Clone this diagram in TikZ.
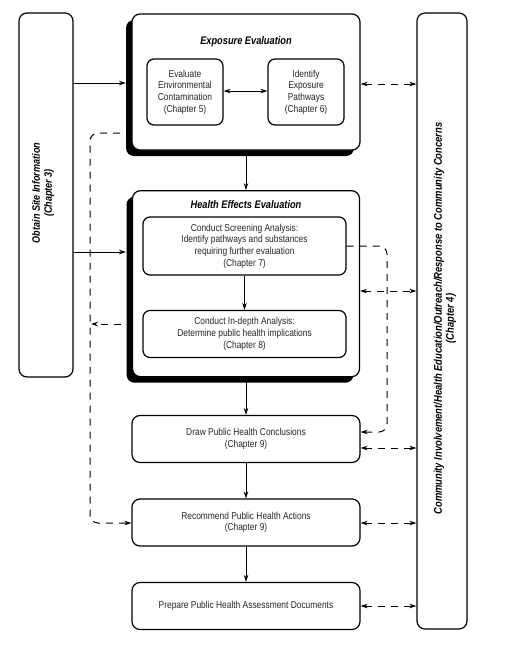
\documentclass[tikz,border=0pt]{standalone}
\usepackage{fontspec}
\setmainfont{Liberation Sans}[FakeStretch=0.84]
\usetikzlibrary{arrows.meta,shadows}
\begin{document}
\begin{tikzpicture}[x=1pt,y=-1pt,
  box/.style={draw, line width=1.2pt, rounded corners=8pt, fill=white, align=center, inner sep=0pt},
  shad/.style={drop shadow={shadow xshift=-6pt, shadow yshift=-6pt, fill=black, opacity=1}},
  txt/.style={font=\fontsize{10}{11.7}\selectfont, text=black!85},
  ttl/.style={font=\fontsize{11}{13}\selectfont\bfseries\itshape, inner sep=0pt},
  side/.style={font=\fontsize{10.8}{12}\selectfont\bfseries\itshape, align=center, rotate=90, inner sep=0pt},
  tip/.tip={Stealth[length=7pt,width=4.5pt]},
  arr/.style={-tip, line width=1pt},
  arrb/.style={tip-tip, line width=1pt},
  dar/.style={-tip, line width=1pt, dash pattern=on 7pt off 6pt},
  darr/.style={tip-tip, line width=1pt, dash pattern=on 7pt off 6pt}
]
\useasboundingbox (0,0) rectangle (506,656);

% side boxes
\node[box, minimum width=54pt, minimum height=364pt] (obtain) at (46,195) {};
\node[side] (obtaintext) at (43,193) {Obtain Site Information\\(Chapter 3)};
\node[box, minimum width=50pt, minimum height=616pt] (comm) at (442,321) {};
\node[side, font=\fontsize{11.2}{12}\selectfont\bfseries\itshape] (commtext) at (445,318.5) {Community Involvement/Health Education/Outreach/Response to Community Concerns\\(Chapter 4)};

% exposure evaluation
\node[box, shad, minimum width=228pt, minimum height=136pt] (expo) at (246,82) {};
\node[ttl] (expotitle) at (246,42) {Exposure Evaluation};
\node[box, txt, rounded corners=7pt, minimum width=76pt, minimum height=66pt] (eval) at (185,92) {Evaluate\\Environmental\\Contamination\\(Chapter 5)};
\node[box, txt, rounded corners=7pt, minimum width=76pt, minimum height=66pt] (ident) at (306,92) {Identify\\Exposure\\Pathways\\(Chapter 6)};
\draw[arrb] (eval.east |- 0,91) -- (ident.west |- 0,91);

% health effects evaluation
\node[box, shad, minimum width=227pt, minimum height=186pt] (health) at (246,283.7) {};
\node[ttl] (healthtitle) at (246,205) {Health Effects Evaluation};
\node[box, txt, rounded corners=7pt, minimum width=203pt, minimum height=58pt] (screen) at (244.5,246) {Conduct Screening Analysis:\\Identify pathways and substances\\requiring further evaluation\\(Chapter 7)};
\node[box, txt, rounded corners=7pt, minimum width=203pt, minimum height=47pt] (indepth) at (244.5,334) {Conduct In-depth Analysis:\\Determine public health implications\\(Chapter 8)};
\draw[arr] (screen.south) -- (indepth.north);

% lower boxes
\node[box, txt, minimum width=228pt, minimum height=47pt] (draw) at (246,439) {Draw Public Health Conclusions\\(Chapter 9)};
\node[box, txt, minimum width=228pt, minimum height=47pt] (recom) at (246,522.5) {Recommend Public Health Actions\\(Chapter 9)};
\node[box, txt, minimum width=228pt, minimum height=47pt] (prep) at (246,606) {Prepare Public Health Assessment Documents};

% solid arrows
\coordinate (exin) at (126,83);
\coordinate (hein) at (126,252);
\coordinate (exbot) at (246,156);
\coordinate (hebot) at (246,382);
\draw[arr] (obtain.east |- exin) -- (exin);
\draw[arr] (obtain.east |- hein) -- (hein);
\draw[arr] (exbot) -- (health.north);
\draw[arr] (hebot) -- (draw.north);
\draw[arr] (draw.south) -- (recom.north);
\draw[arr] (recom.south) -- (prep.north);

% dashed double arrows to community box
\draw[darr] (expo.east |- 0,84) -- (comm.west |- 0,84);
\draw[darr] (health.east |- 0,291) -- (comm.west |- 0,291);
\draw[darr] (draw.east |- 0,448) -- (comm.west |- 0,448);
\draw[darr] (recom.east |- 0,523) -- (comm.west |- 0,523);
\draw[darr] (prep.east |- 0,606) -- (comm.west |- 0,606);

% dashed loops
\draw[dar, rounded corners=8pt] (screen.east |- 0,246) -- (387,246) -- (387,432) -- (draw.east |- 0,432);
\coordinate (loopstart) at (120,133);
\draw[dar, rounded corners=8pt] (loopstart) -- (90,133) -- (90,523) -- (recom.west |- 0,523);
\coordinate (backstart) at (121,324);
\coordinate (backend) at (91,324);
\draw[dar] (backstart) -- (backend);
\end{tikzpicture}
\end{document}
